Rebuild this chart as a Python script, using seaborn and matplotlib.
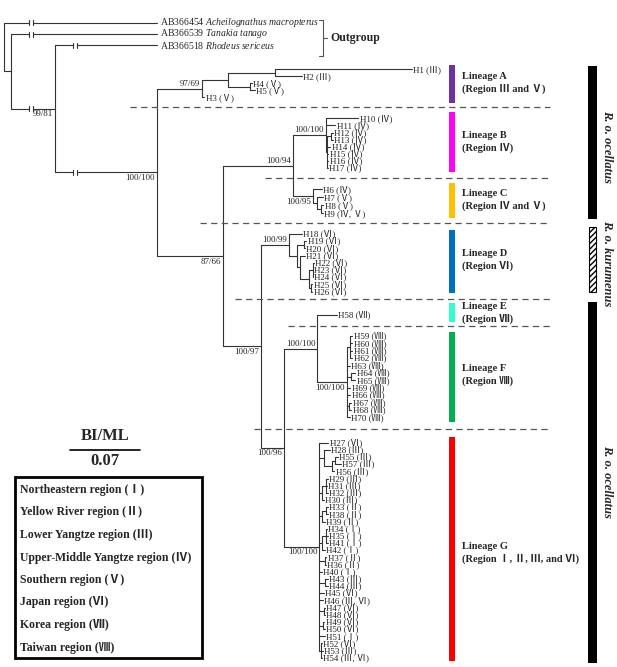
import matplotlib
matplotlib.use('Agg')
import matplotlib.pyplot as plt
from matplotlib.patches import Rectangle
import numpy as np
import pandas as pd
import seaborn as sns

sns.set_theme(style='white')
plt.rcParams['font.family'] = ['Liberation Serif', 'Noto Sans CJK SC']
plt.rcParams['mathtext.fontset'] = 'custom'
plt.rcParams['mathtext.rm'] = 'Liberation Serif'
plt.rcParams['mathtext.it'] = 'Liberation Serif:italic'

# ---- data -------------------------------------------------------------
# branch lengths in 1/1000 substitutions per site
tree_newick = """
(AB366454:152.7,(AB366539:146.3,(AB366518:102,
 ((((H1:136.7,H2:26.7)A11:46.7,(H4:2,H5:5)A12:21.7)A1:26.6,H3:2.3)A:44.7,
  (((H10:32.6,H11:9.3,((H12:2,H13:2)B3:3.5,H14:3,H15:1,H16:1,H17:0.5)B2:1.5)B:33,
    (H6:8.2,(H7:6,(H8:2.5,H9:2)C3:4)C2:3.2)C:20.6)BC:69.4,
   ((H18:12.4,((H19:2.5,H20:1.5)D3:6.8,(H21:5,((H22:1,H23:0.5,H24:0.5)D6:3.5,
      (H25:1,H26:1)D7:2)D5:9)D4:3.3)D2:7.4)D:28.3,
    ((H58:19.4,((H59:2,H60:2,H61:2,H62:2)F1:3.5,H63:3,(H64:4,H65:4)F2:4.5,H69:3.5,
       H66:3.5,(H67:2.5,H68:2.5)F3:2,H70:3)F:29.4)EF:33.6,
     (H27:9,(H28:6,((H55:3,H57:6)G4:3,H56:2.5)G3:8)G2:4.2,
      ((H29:2,H31:1.5,H32:2)G6:3.5,H30:1.5)G5:2.7,((H33:2,H38:2)G8:3.5,H39:3)G7:2.7,
      ((H34:1.5,H35:2,H41:2)G10:3.5,H42:3)G9:2.7,(H37:1,H36:0.5)G11:5.7,H40:2.2,
      (H43:2.5,H44:2.5)G12:5.7,H45:4.2,H46:3.7,(H47:1.5,H48:1.5)G13:4.2,
      (H49:1.5,H50:2.5)G14:3.2,H51:5.2,(H52:1,H53:2,H54:1)G15:1.2)G:35.6
    )EFG:22.7)DEFG:37.7)X:66.3)ING:102)N3:44.3)N1:6.4)root;
"""

outgroup_ids = ['AB366454', 'AB366539', 'AB366518']
outgroup_species = ['Acheilognathus macropterus', 'Tanakia tanago', 'Rhodeus sericeus']

lineage_A = ['H1 (Ⅲ)', 'H2 (Ⅲ)', 'H4 (Ⅴ)', 'H5 (Ⅴ)', 'H3 (Ⅴ)']
lineage_B = ['H10 (Ⅳ)', 'H11 (Ⅳ)', 'H12 (Ⅳ)', 'H13 (Ⅳ)', 'H14 (Ⅳ)', 'H15 (Ⅳ)',
             'H16 (Ⅳ)', 'H17 (Ⅳ)']
lineage_C = ['H6 (Ⅳ)', 'H7 (Ⅴ)', 'H8 (Ⅴ)', 'H9 (Ⅳ, Ⅴ)']
lineage_D = ['H18 (Ⅵ)', 'H19 (Ⅵ)', 'H20 (Ⅵ)', 'H21 (Ⅵ)', 'H22 (Ⅵ)', 'H23 (Ⅵ)',
             'H24 (Ⅵ)', 'H25 (Ⅵ)', 'H26 (Ⅵ)']
lineage_E = ['H58 (Ⅶ)']
lineage_F = ['H59 (Ⅷ)', 'H60 (Ⅷ)', 'H61 (Ⅷ)', 'H62 (Ⅷ)', 'H63 (Ⅷ)', 'H64 (Ⅷ)',
             'H65 (Ⅷ)', 'H69 (Ⅷ)', 'H66 (Ⅷ)', 'H67 (Ⅷ)', 'H68 (Ⅷ)', 'H70 (Ⅷ)']
lineage_G = ['H27 (Ⅵ)', 'H28 (Ⅲ)', 'H55 (Ⅲ)', 'H57 (Ⅲ)', 'H56 (Ⅲ)', 'H29 (Ⅲ)',
             'H31 (Ⅲ)', 'H32 (Ⅲ)', 'H30 (Ⅲ)', 'H33 (Ⅱ)', 'H38 (Ⅱ)', 'H39 (Ⅱ)',
             'H34 (Ⅰ)', 'H35 (Ⅰ)', 'H41 (Ⅰ)', 'H42 (Ⅰ)', 'H37 (Ⅱ)', 'H36 (Ⅱ)',
             'H40 (Ⅰ)', 'H43 (Ⅲ)', 'H44 (Ⅲ)', 'H45 (Ⅵ)', 'H46 (Ⅲ, Ⅵ)', 'H47 (Ⅵ)',
             'H48 (Ⅵ)', 'H49 (Ⅵ)', 'H50 (Ⅵ)', 'H51 (Ⅰ)', 'H52 (Ⅵ)', 'H53 (Ⅲ)',
             'H54 (Ⅲ, Ⅵ)']

lineage_names = ['Lineage A', 'Lineage B', 'Lineage C', 'Lineage D',
                 'Lineage E', 'Lineage F', 'Lineage G']
lineage_regions = ['(Region Ⅲ and Ⅴ)', '(Region Ⅳ)', '(Region Ⅳ and Ⅴ)', '(Region Ⅵ)',
                   '(Region Ⅶ)', '(Region Ⅷ)', '(Region Ⅰ, Ⅱ, Ⅲ, and Ⅵ)']
lineage_colors = ['#7030A0', '#FF00FF', '#FFC000', '#0070C0', '#33FFCC', '#00B050', '#FF0000']

supports = {'N3': ('99/81', 'below'), 'ING': ('100/100', 'below'), 'A': ('97/69', 'above'),
            'X': ('87/66', 'below'), 'BC': ('100/94', 'above'), 'B': ('100/100', 'above'),
            'C': ('100/95', 'below'), 'DEFG': ('100/97', 'below'), 'D': ('100/99', 'above'),
            'EFG': ('100/96', 'below'), 'EF': ('100/100', 'above'), 'F': ('100/100', 'below'),
            'G': ('100/100', 'below')}
broken = ['AB366454', 'AB366539', 'AB366518', 'N3', 'ING']

regions = ['Northeastern region (Ⅰ)', 'Yellow River region (Ⅱ)', 'Lower Yangtze region (Ⅲ)',
           'Upper-Middle Yangtze region (Ⅳ)', 'Southern region (Ⅴ)', 'Japan region (Ⅵ)',
           'Korea region (Ⅶ)', 'Taiwan region (Ⅷ)']
scale_value = 0.07


# ---- tree parsing / layout --------------------------------------------
def parse_newick(s):
    s = ''.join(s.split())
    pos = 0

    def node():
        nonlocal pos
        kids = []
        if s[pos] == '(':
            pos += 1
            while True:
                kids.append(node())
                if s[pos] == ',':
                    pos += 1
                    continue
                pos += 1
                break
        name = ''
        while s[pos] not in ':,();':
            name += s[pos]
            pos += 1
        length = 0.0
        if s[pos] == ':':
            pos += 1
            num = ''
            while s[pos] not in ',();':
                num += s[pos]
                pos += 1
            length = float(num)
        return {'name': name, 'len': length, 'children': kids}

    return node()


groups = [(lineage_A, 69.3, 7.0), (lineage_B, 118.3, 7.14), (lineage_C, 189.3, 8.0),
          (lineage_D, 234.0, 7.2), (lineage_E, 315.0, 7.0), (lineage_F, 336.0, 7.4),
          (lineage_G, 442.7, 7.17)]
leaf_y = {k: 22.7 + 11.3 * i for i, k in enumerate(outgroup_ids)}
leaf_text = {}
for labels, y0, step in groups:
    for i, lab in enumerate(labels):
        leaf_y[lab.split(' ')[0]] = y0 + step * i
        leaf_text[lab.split(' ')[0]] = lab

tree = parse_newick(tree_newick)
ROOT_X = 4.3


def place(n, x0):
    n['x'] = x0 + n['len']
    for c in n['children']:
        place(c, n['x'])
    if n['children']:
        n['y'] = (n['children'][0]['y'] + n['children'][-1]['y']) / 2
    else:
        n['y'] = leaf_y[n['name']]


place(tree, ROOT_X)

segs = []


def add(x0, y0, x1, y1):
    k = len(segs)
    segs.append((k, x0, y0))
    segs.append((k, x1, y1))


nodes = []


def walk(n, parent=None):
    nodes.append(n)
    if parent is not None:
        if n['name'] in broken:
            bx = max(parent['x'] + 20, 31)
            add(parent['x'], n['y'], bx - 2, n['y'])
            add(bx + 2, n['y'], n['x'], n['y'])
            add(bx - 2, n['y'] - 2.5, bx - 2, n['y'] + 2.5)
            add(bx + 2, n['y'] - 2.5, bx + 2, n['y'] + 2.5)
        else:
            add(parent['x'], n['y'], n['x'], n['y'])
    if n['children']:
        add(n['x'], n['children'][0]['y'], n['x'], n['children'][-1]['y'])
        for c in n['children']:
            walk(c, n)


walk(tree)
edges = pd.DataFrame(segs, columns=['seg', 'x', 'y'])

# ---- drawing ----------------------------------------------------------
fig = plt.figure(figsize=(6.17, 6.67), dpi=100)
ax = fig.add_axes([0, 0, 1, 1])
sns.lineplot(data=edges, x='x', y='y', units='seg', estimator=None, sort=False,
             color='#333333', lw=0.8, ax=ax, legend=False)
ax.set_xlim(0, 617)
ax.set_ylim(667, 0)
ax.axis('off')

for n in nodes:
    if not n['children']:
        if n['name'] in leaf_text:
            ax.text(n['x'] + 1.5, n['y'], leaf_text[n['name']], fontsize=6.5,
                    va='center', ha='left', color='#222222')
    elif n['name'] in supports:
        txt, where = supports[n['name']]
        if where == 'above':
            ax.text(n['x'] - 2, n['y'] - 1, txt, fontsize=6.5, ha='right', va='bottom')
        else:
            ax.text(n['x'] - 2, n['y'] + 1.5, txt, fontsize=6.5, ha='right', va='top')

for acc, sp in zip(outgroup_ids, outgroup_species):
    ax.text(160, leaf_y[acc], acc + ' $\\mathit{' + sp.replace(' ', '\\ ') + '}$',
            fontsize=7, va='center', ha='left')
ax.plot([319, 323, 323, 319], [20, 20, 56, 56], color='#555555', lw=0.8)
ax.plot([323, 327], [37.5, 37.5], color='#555555', lw=0.8)
ax.text(330, 37.5, 'Outgroup', fontsize=8.5, fontweight='bold', va='center')

# dashed separators
for y, x0 in [(107.3, 130), (178.3, 265), (222.7, 200), (298.5, 235), (326, 288), (429.3, 254)]:
    ax.plot([x0, 550], [y, y], color='#555555', lw=0.9, dashes=(5, 3.5))

# lineage colour bars and labels
bar_spans = [(65, 102.7), (111.7, 171.7), (182.7, 218.3), (230, 293.3), (303.3, 321.7),
             (331.7, 421.7), (437.3, 660.7)]
text_y = [76.7, 135, 193.3, 253.3, 306.7, 368.3, 546.7]
for (y0, y1), c, nm, rg, ty in zip(bar_spans, lineage_colors, lineage_names,
                                   lineage_regions, text_y):
    ax.add_patch(Rectangle((449, y0), 6, y1 - y0, color=c, lw=0))
    ax.text(462, ty, nm, fontsize=7.5, fontweight='bold', va='center')
    ax.text(462, ty + 12.6, rg, fontsize=7.5, fontweight='bold', va='center')

# subspecies bars
ax.add_patch(Rectangle((588.3, 66), 8.4, 153.3, color='black', lw=0))
ax.add_patch(Rectangle((588.8, 227), 7.4, 64.5, facecolor='white', edgecolor='black',
                       hatch='//////', lw=0.8))
ax.add_patch(Rectangle((588.3, 301.7), 8.4, 361.6, color='black', lw=0))
for ty, txt in [(146.7, 'R. o. ocellatus'), (263.3, 'R. o. kurumenus'), (481.7, 'R. o. ocellatus')]:
    ax.text(607, ty, txt, rotation=270, fontsize=9, fontweight='bold', fontstyle='italic',
            ha='center', va='center')

# scale bar
ax.plot([70, 70 + scale_value * 1000], [450, 450], color='black', lw=1.2)
ax.text(105, 436, 'BI/ML', fontsize=12, fontweight='bold', ha='center', va='center')
ax.text(105, 461, '{:.2f}'.format(scale_value), fontsize=12, fontweight='bold',
        ha='center', va='center')

# region legend
ax.add_patch(Rectangle((15, 477.3), 187, 181, facecolor='none', edgecolor='black', lw=2))
for i, r in enumerate(regions):
    ax.text(20, 490 + 22.5 * i, r, fontsize=8.5, fontweight='bold', va='center', ha='left')

fig.savefig('out.png', dpi=100)
